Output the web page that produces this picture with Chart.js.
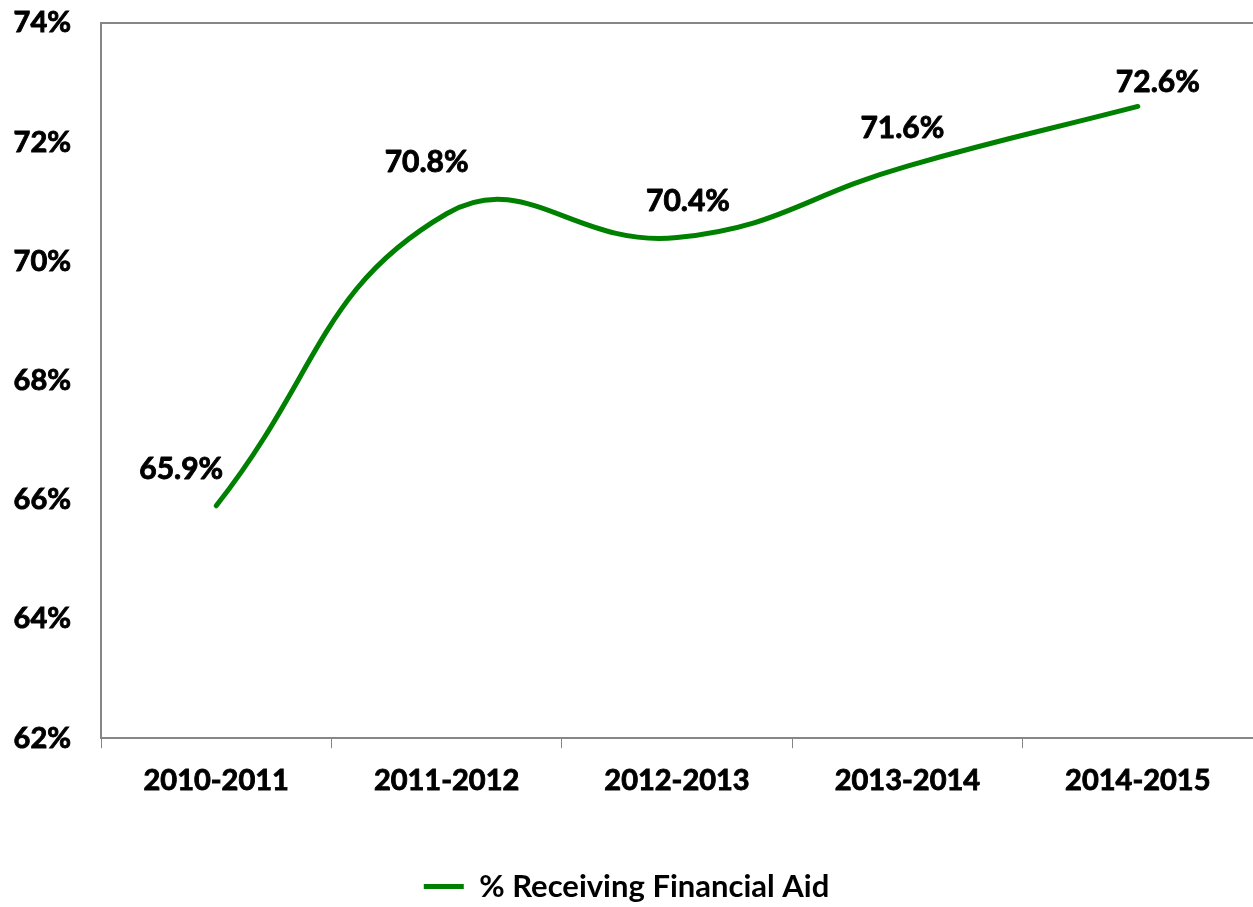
<!DOCTYPE html>
<html>
<head>
<meta charset="utf-8">
<script src="https://cdn.jsdelivr.net/npm/chart.js@4/dist/chart.umd.min.js"></script>
<style>
  html, body { margin: 0; padding: 0; background: #ffffff; }
  #wrap { width: 1253px; height: 907px; position: relative; }
</style>
</head>
<body>
<div id="wrap"><canvas id="c" width="1253" height="907"></canvas></div>
<script>
// ---- data ----
const categories = ["2010-2011", "2011-2012", "2012-2013", "2013-2014", "2014-2015"];
const aidValues = [65.9, 70.8, 70.4, 71.6, 72.6];
const seriesName = "% Receiving Financial Aid";
const yMin = 62, yMax = 74, yStep = 2;

// ---- style ----
const FONT = "Lato, 'Open Sans', 'Noto Sans', sans-serif";
const WEIGHT = 'bold';
const GREEN = "#008000";
const AXIS = "#868686";
const STROKE = 0.9;
// label offsets (dx, dy) relative to the point, in px
const labelOffsets = [[-35, -36], [-20, -51], [11, -36], [-5, -38], [20, -24]];

const dataLabelPlugin = {
  id: 'dataLabels',
  afterDatasetsDraw(chart) {
    const ctx = chart.ctx;
    const meta = chart.getDatasetMeta(0);
    ctx.save();
    ctx.font = WEIGHT + " 30px " + FONT;
    ctx.fillStyle = "#000";
    ctx.strokeStyle = "#000";
    ctx.lineWidth = STROKE;
    ctx.lineJoin = 'round';
    ctx.textAlign = "center";
    ctx.textBaseline = "middle";
    meta.data.forEach((pt, i) => {
      const off = labelOffsets[i] || [0, -30];
      const t = aidValues[i].toFixed(1) + "%";
      ctx.strokeText(t, pt.x + off[0], pt.y + off[1]);
      ctx.fillText(t, pt.x + off[0], pt.y + off[1]);
    });
    ctx.restore();
  }
};

const topBorderPlugin = {
  id: 'topBorder',
  beforeDatasetsDraw(chart) {
    const a = chart.chartArea;
    const ctx = chart.ctx;
    ctx.save();
    ctx.strokeStyle = AXIS;
    ctx.lineWidth = 2;
    ctx.beginPath();
    ctx.moveTo(a.left, a.top);
    ctx.lineTo(a.right, a.top);
    ctx.stroke();
    ctx.restore();
  }
};

new Chart(document.getElementById('c'), {
  type: 'line',
  data: {
    labels: categories,
    datasets: [{
      label: seriesName,
      data: aidValues,
      borderColor: GREEN,
      backgroundColor: GREEN,
      borderWidth: 5,
      borderCapStyle: 'round',
      tension: 0.45,
      pointRadius: 0,
      pointHoverRadius: 0,
      fill: false
    }]
  },
  options: {
    responsive: false,
    animation: false,
    events: [],
    layout: { padding: { left: 0, right: 0, top: 0, bottom: -5 } },
    plugins: {
      legend: {
        position: 'bottom',
        labels: {
          usePointStyle: true,
          pointStyle: 'line',
          pointStyleWidth: 40,
          boxWidth: 40,
          color: '#000',
          font: { family: FONT, size: 31, weight: WEIGHT },
          padding: 23
        }
      },
      tooltip: { enabled: false },
      title: { display: false }
    },
    scales: {
      x: {
        offset: true,
        grid: {
          offset: true,
          drawOnChartArea: false,
          drawTicks: true,
          tickLength: 10,
          color: AXIS,
          lineWidth: 1
        },
        border: { color: AXIS, width: 2 },
        ticks: {
          color: '#000',
          font: { family: FONT, size: 29, weight: WEIGHT },
          textStrokeColor: '#000',
          textStrokeWidth: STROKE,
          padding: 15,
          maxRotation: 0
        },
        afterFit(scale) { scale.height += 35; }
      },
      y: {
        min: yMin,
        max: yMax,
        grid: { display: true, drawOnChartArea: false, drawTicks: false },
        border: { color: AXIS, width: 2 },
        ticks: {
          stepSize: yStep,
          color: '#000',
          font: { family: FONT, size: 29, weight: WEIGHT },
          textStrokeColor: '#000',
          textStrokeWidth: STROKE,
          padding: 30,
          callback: v => v + '%'
        },
        afterFit(scale) { scale.width = 101; scale.paddingTop = 23; }
      }
    }
  },
  plugins: [dataLabelPlugin, topBorderPlugin]
});
</script>
</body>
</html>
